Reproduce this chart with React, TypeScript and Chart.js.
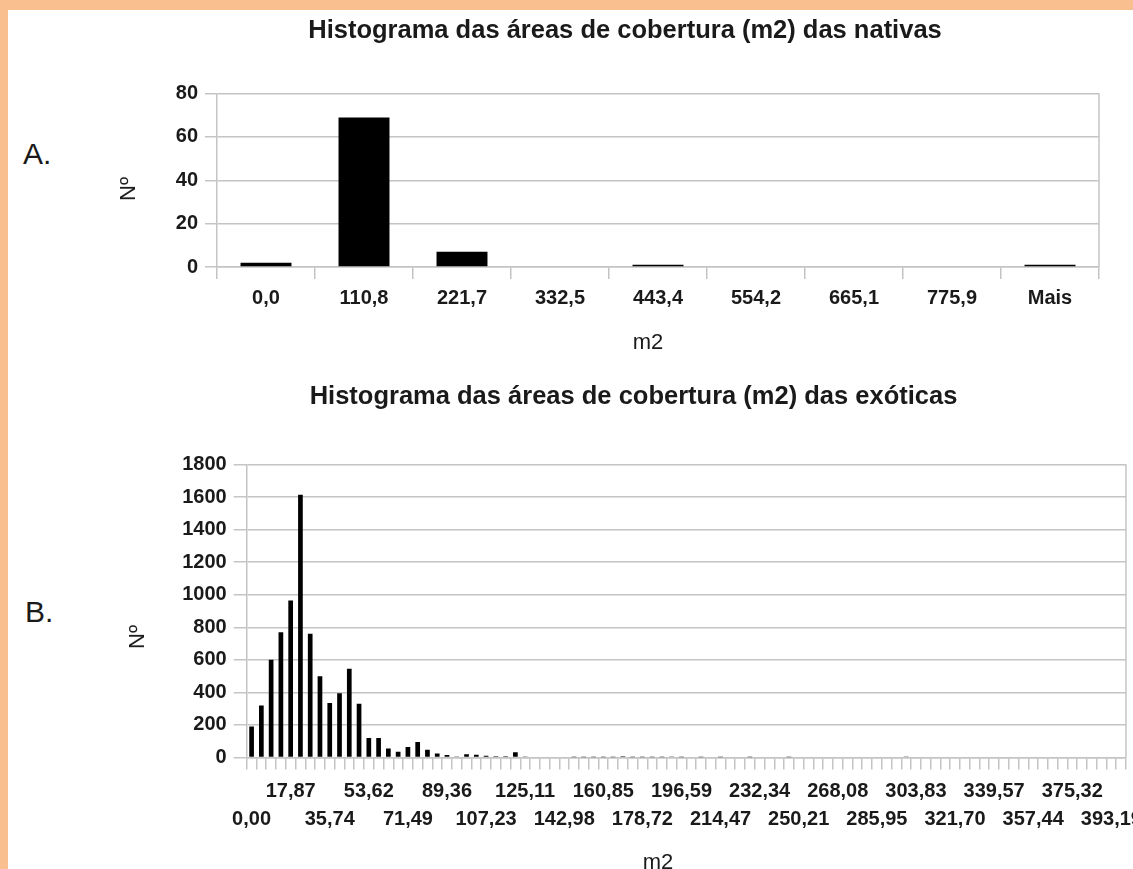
import React, { useEffect, useRef } from 'react';
import { Chart, registerables } from 'chart.js';

Chart.register(...registerables);

const FONT = "'Liberation Sans', Arial, sans-serif";
const TEXT = '#1a1a1a';
const GRID = '#c4c4c4';
const ORANGE = '#F9BF8F';

const nativeTitle = 'Histograma das áreas de cobertura (m2) das nativas';
const exoticTitle = 'Histograma das áreas de cobertura (m2) das exóticas';
const xAxisTitle = 'm2';
const yAxisTitle = 'Nº';

const nativeBins = ['0,0', '110,8', '221,7', '332,5', '443,4', '554,2', '665,1', '775,9', 'Mais'];
const nativeCounts = [2, 69, 7, 0, 1, 0, 0, 0, 1];

const exoticTickLabels = [
  '0,00', '17,87', '35,74', '53,62', '71,49', '89,36', '107,23', '125,11', '142,98', '160,85', '178,72', '196,59',
  '214,47', '232,34', '250,21', '268,08', '285,95', '303,83', '321,70', '339,57', '357,44', '375,32', '393,19',
];
const exoticCounts = [
  190, 320, 600, 770, 965, 1615, 760, 500, 335, 395, 545, 330, 120, 120, 55, 35, 65, 95, 48, 25,
  15, 6, 20, 17, 10, 8, 8, 33, 6, 5, 4, 4, 5, 2, 1, 1, 2, 1, 8, 2,
  1, 1, 1, 3, 1, 0, 1, 0, 1, 0, 0, 2, 0, 0, 0, 1, 0, 0, 0, 0,
  0, 0, 0, 0, 0, 0, 0, 3, 0, 0, 0, 0, 0, 0, 0, 0, 0, 0, 0, 0,
  0, 0, 0, 0, 0, 0, 0, 0, 0, 0,
];

const rightBorder = {
  id: 'rightBorder',
  beforeDatasetsDraw(chart: any) {
    const { ctx, chartArea } = chart;
    ctx.save();
    ctx.strokeStyle = GRID;
    ctx.lineWidth = 1.5;
    ctx.beginPath();
    ctx.moveTo(chartArea.right, chartArea.top);
    ctx.lineTo(chartArea.right, chartArea.bottom);
    ctx.stroke();
    ctx.restore();
  },
};

const tickFont = { family: FONT, size: 20, weight: 'bold' as const };
const chartTitleFont = { family: FONT, size: 25.5, weight: 'bold' as const, lineHeight: 1.2 };
const plainNumber = (v: any) => String(v);

function nativeConfig(): any {
  return {
    type: 'bar',
    data: {
      labels: nativeBins,
      datasets: [
        {
          data: nativeCounts,
          backgroundColor: '#000',
          borderWidth: 0,
          barPercentage: 0.52,
          categoryPercentage: 1,
        },
      ],
    },
    options: {
      responsive: false,
      animation: false,
      devicePixelRatio: 1,
      layout: { padding: { left: 143, right: 34, top: 0, bottom: 10 } },
      plugins: {
        legend: { display: false },
        tooltip: { enabled: false },
        title: {
          display: true,
          text: nativeTitle,
          color: TEXT,
          font: chartTitleFont,
          padding: { top: 6, bottom: 47 },
        },
      },
      scales: {
        x: {
          offset: true,
          grid: { display: true, offset: true, drawOnChartArea: false, drawTicks: true, tickLength: 12, color: GRID, lineWidth: 1.5 },
          border: { display: true, color: GRID, width: 1.5 },
          ticks: { color: TEXT, font: tickFont, padding: 7, maxRotation: 0, autoSkip: false },
          afterFit: (s: any) => {
            s.height = 93;
          },
        },
        y: {
          min: 0,
          max: 80,
          ticks: { stepSize: 20, color: TEXT, font: tickFont, padding: 7, callback: plainNumber },
          grid: { color: GRID, lineWidth: 1.5, tickLength: 12 },
          border: { display: true, color: GRID, width: 1.5 },
          afterFit: (s: any) => {
            s.width = 66;
          },
        },
      },
    },
    plugins: [rightBorder],
  };
}

function exoticConfig(): any {
  return {
    type: 'bar',
    data: {
      labels: exoticCounts.map((_, i) => String(i)),
      datasets: [
        {
          data: exoticCounts,
          backgroundColor: '#000',
          borderWidth: 0,
          barPercentage: 0.48,
          categoryPercentage: 1,
        },
      ],
    },
    options: {
      responsive: false,
      animation: false,
      devicePixelRatio: 1,
      layout: { padding: { left: 133, right: 7, top: 0, bottom: 0 } },
      plugins: {
        legend: { display: false },
        tooltip: { enabled: false },
        title: {
          display: true,
          text: exoticTitle,
          color: TEXT,
          font: chartTitleFont,
          padding: { top: 17, bottom: 52 },
        },
      },
      scales: {
        x: {
          offset: true,
          grid: { display: true, offset: true, drawOnChartArea: false, drawTicks: true, tickLength: 12, color: GRID, lineWidth: 1.5 },
          border: { display: true, color: GRID, width: 1.5 },
          ticks: {
            color: TEXT,
            font: { ...tickFont, lineHeight: 1.4 },
            padding: 8,
            maxRotation: 0,
            minRotation: 0,
            autoSkip: false,
            callback: (_v: any, index: number) => {
              if (index % 4 !== 0) return '';
              const k = index / 4;
              const lbl = exoticTickLabels[k];
              if (lbl === undefined) return '';
              return k % 2 === 0 ? ['', lbl] : [lbl, ''];
            },
          },
          afterFit: (s: any) => {
            s.height = 121.5;
          },
        },
        y: {
          min: 0,
          max: 1800,
          ticks: { stepSize: 200, color: TEXT, font: tickFont, padding: 7, callback: plainNumber },
          grid: { color: GRID, lineWidth: 1.5, tickLength: 13 },
          border: { display: true, color: GRID, width: 1.5 },
          afterFit: (s: any) => {
            s.width = 105.7;
          },
        },
      },
    },
    plugins: [rightBorder],
  };
}

function ChartCanvas({ make, left, top, width, height }: any) {
  const ref = useRef<HTMLCanvasElement | null>(null);
  useEffect(() => {
    if (!ref.current) return;
    const chart = new Chart(ref.current, make());
    return () => chart.destroy();
  }, [make]);
  return (
    <canvas
      ref={ref}
      width={width}
      height={height}
      style={{ position: 'absolute', left, top, width, height, display: 'block' }}
    />
  );
}

function AxisTitle({ text, cx, cy, rotate }: any) {
  return (
    <div
      style={{
        position: 'absolute',
        left: cx,
        top: cy,
        transform: `translate(-50%, -50%)${rotate ? ' rotate(-90deg)' : ''}`,
        fontFamily: FONT,
        fontSize: 22,
        lineHeight: '26px',
        color: TEXT,
        whiteSpace: 'nowrap',
      }}
    >
      {text}
    </div>
  );
}

export default function App() {
  const letterStyle: React.CSSProperties = {
    position: 'absolute',
    fontFamily: FONT,
    fontSize: 30,
    lineHeight: '34px',
    color: TEXT,
  };
  return (
    <div
      style={{
        position: 'fixed',
        left: 0,
        top: 0,
        width: 1133,
        height: 869,
        overflow: 'hidden',
        background: ORANGE,
      }}
    >
      <div style={{ position: 'absolute', left: 8, top: 10, right: 0, bottom: 0, background: '#fff' }} />
      <div style={{ ...letterStyle, left: 23, top: 137 }}>A.</div>
      <div style={{ ...letterStyle, left: 25, top: 595 }}>B.</div>
      <ChartCanvas make={nativeConfig} left={8} top={10} width={1125} height={360} />
      <ChartCanvas make={exoticConfig} left={8} top={365} width={1125} height={514} />
      <AxisTitle text={yAxisTitle} cx={128} cy={189} rotate />
      <AxisTitle text={xAxisTitle} cx={648} cy={342} />
      <AxisTitle text={yAxisTitle} cx={137} cy={637} rotate />
      <AxisTitle text={xAxisTitle} cx={658} cy={862} />
    </div>
  );
}
